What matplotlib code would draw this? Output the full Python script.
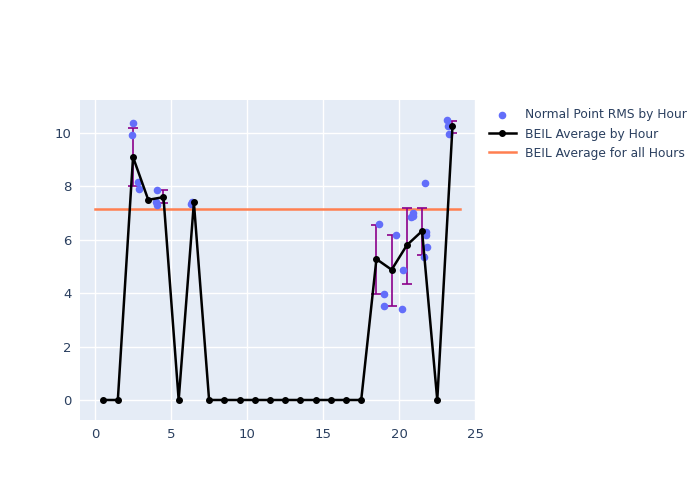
import numpy as np
import matplotlib.pyplot as plt

# hourly averages (hour centres)
hours = [0.5, 1.5, 2.5, 3.5, 4.5, 5.5, 6.5, 7.5, 8.5, 9.5, 10.5, 11.5,
         12.5, 13.5, 14.5, 15.5, 16.5, 17.5, 18.5, 19.5, 20.5, 21.5, 22.5, 23.5]
avg = [0, 0, 9.1, 7.5, 7.6, 0, 7.4, 0, 0, 0, 0, 0,
       0, 0, 0, 0, 0, 0, 5.28, 4.88, 5.8, 6.33, 0, 10.25]

# error bars (only hours with spread)
err_hours = [2.5, 4.5, 18.5, 19.5, 20.5, 21.5, 23.5]
err_low = [8.0, 7.38, 3.97, 3.52, 4.35, 5.43, 10.0]
err_high = [10.2, 7.87, 6.57, 6.2, 7.2, 7.2, 10.46]
err_mid = [9.1, 7.6, 5.28, 4.88, 5.8, 6.33, 10.25]

# individual normal point RMS values
pt_x = [2.41, 2.5, 2.81, 2.87, 4.06, 4.1, 4.0, 6.3, 6.4,
        18.7, 18.97, 19.03, 19.76, 20.26, 20.2, 20.88, 20.8, 20.9,
        21.69, 21.78, 21.75, 21.8, 21.64, 23.16, 23.22, 23.28]
pt_y = [9.94, 10.39, 8.15, 7.89, 7.87, 7.32, 7.42, 7.36, 7.4,
        6.58, 3.97, 3.53, 6.2, 4.87, 3.41, 6.99, 6.84, 6.9,
        8.14, 6.3, 6.2, 5.72, 5.34, 10.49, 10.26, 9.96]

overall_avg = 7.15

fig = plt.figure(figsize=(7, 5), dpi=100)
ax = fig.add_axes([0.114, 0.16, 0.565, 0.64])
ax.set_facecolor('#E5ECF6')

ax.scatter(pt_x, pt_y, s=20, color='#636EFA', label='Normal Point RMS by Hour', zorder=3)

lo = np.array(err_mid) - np.array(err_low)
hi = np.array(err_high) - np.array(err_mid)
ax.errorbar(err_hours, err_mid, yerr=[lo, hi], fmt='none', ecolor='#8B008B',
            elinewidth=1.2, capsize=3.5, capthick=1.2, zorder=2)

ax.plot(hours, avg, color='black', marker='o', markersize=4, linewidth=1.8,
        label='BEIL Average by Hour', zorder=4)
ax.plot([0, 24], [overall_avg, overall_avg], color='#FF7F50', linewidth=1.8,
        label='BEIL Average for all Hours', zorder=1)

ax.set_xlim(-1, 25)
ax.set_ylim(-0.75, 11.24)
ax.set_xticks([0, 5, 10, 15, 20, 25])
ax.set_yticks([0, 2, 4, 6, 8, 10])
ax.grid(True, color='white', linewidth=1)
ax.set_axisbelow(True)
for s in ax.spines.values():
    s.set_visible(False)
ax.tick_params(length=0, colors='#2a3f5f', labelsize=9.5, pad=6)

ax.legend(loc='upper left', bbox_to_anchor=(1.006, 1.008), frameon=False,
          fontsize=8.8, labelcolor='#2a3f5f', handlelength=2.2, labelspacing=0.5)

fig.savefig('out.png')
